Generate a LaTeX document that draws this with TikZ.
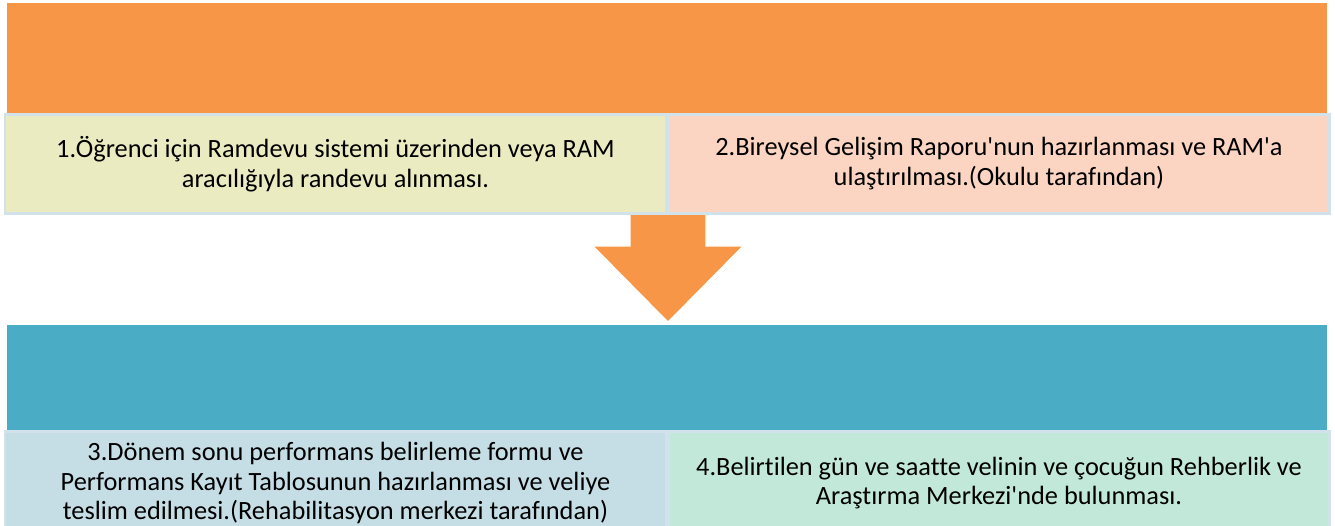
\documentclass[tikz,border=0pt]{standalone}
\usepackage{fontspec}
\setmainfont{Carlito}[Ligatures=NoCommon]
\usepackage{xcolor}
\definecolor{stepOrange}{RGB}{247, 150, 70}
\definecolor{stepTeal}{RGB}{75, 172, 198}
\definecolor{boxEdge}{RGB}{210, 226, 234}
\definecolor{boxYellow}{RGB}{235, 235, 193}
\definecolor{boxPeach}{RGB}{251, 213, 193}
\definecolor{boxBlue}{RGB}{197, 222, 229}
\definecolor{boxGreen}{RGB}{193, 232, 216}

\begin{document}
\begin{tikzpicture}[x=0.02cm,y=-0.02cm,
    band/.style={inner sep=0pt,minimum width=26.4cm},
    stepbox/.style={draw=boxEdge,line width=1.6pt,inner sep=0pt,minimum width=13.22cm,align=center,font=\fontsize{15}{17}\selectfont}]
            \clip (0,0) rectangle (1335,526);
            \fill[white] (0,0) rectangle (1335,526);

            % Bands
            \node[band,fill=stepOrange,minimum height=2.2cm] (upper) at (667,58) {};
            \node[band,fill=stepTeal,minimum height=2.14cm] (lower) at (667,378) {};

            % Arrow between bands
            \coordinate (arrowTop) at (668,212);
            \coordinate (arrowTip) at (668,322);
            \fill[stepOrange,draw=white,line width=0.6pt] ([xshift=-0.76cm]arrowTop) -- ([xshift=0.76cm]arrowTop) -- (706,246) -- (743,246) -- (arrowTip) -- (593,246) -- (630,246) -- cycle;

            % Steps
            \node[stepbox,fill=boxYellow,minimum height=1.98cm] (s1) at (335.5,164) {1.Öğrenci için Ramdevu sistemi üzerinden veya RAM\\aracılığıyla randevu alınması.};
            \node[stepbox,fill=boxPeach,minimum height=1.98cm] (s2) at (999,164) {2.Bireysel Gelişim Raporu\textquotesingle nun hazırlanması ve RAM\textquotesingle a\\ulaştırılması.(Okulu tarafından)};
            \node[stepbox,fill=boxBlue,minimum height=2.06cm] (s3) at (335.5,483) {3.Dönem sonu performans belirleme formu ve\\Performans Kayıt Tablosunun hazırlanması ve veliye\\teslim edilmesi.(Rehabilitasyon merkezi tarafından)};
            \node[stepbox,fill=boxGreen,minimum height=2.06cm] (s4) at (999,483) {4.Belirtilen gün ve saatte velinin ve çocuğun Rehberlik ve\\Araştırma Merkezi\textquotesingle nde bulunması.};
        \end{tikzpicture}
\end{document}
